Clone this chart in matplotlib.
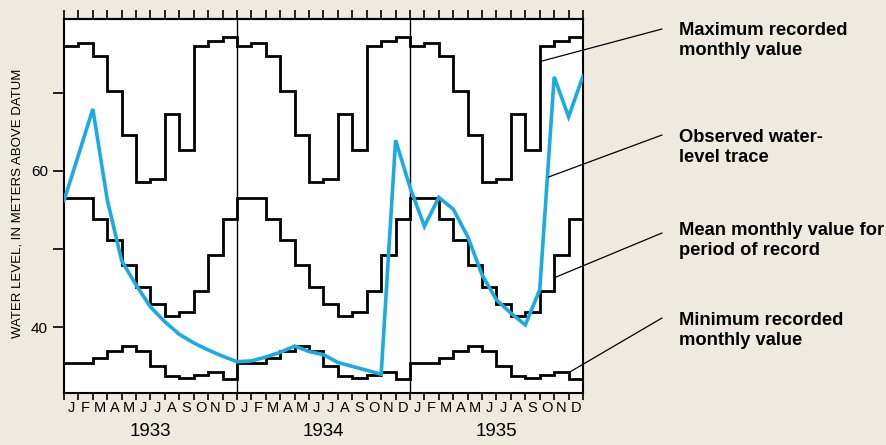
import numpy as np
import matplotlib
matplotlib.use("Agg")
import matplotlib.pyplot as plt

plt.rcParams['font.family'] = ['Liberation Sans', 'DejaVu Sans']

months = ['J', 'F', 'M', 'A', 'M', 'J', 'J', 'A', 'S', 'O', 'N', 'D']
years = ['1933', '1934', '1935']

# monthly statistics for period of record (same every year)
max_vals = [76.0, 76.3, 74.7, 70.2, 64.6, 58.6, 58.9, 67.2, 62.6, 76.0, 76.6, 77.1]
mean_vals = [56.5, 56.5, 53.9, 51.1, 48.0, 45.2, 43.0, 41.5, 41.9, 44.6, 49.3, 53.8]
min_vals = [35.4, 35.4, 36.1, 37.0, 37.6, 37.0, 35.1, 33.8, 33.5, 33.9, 34.3, 33.4]

# observed water level at month ends (Jan 1 1933 ... Dec 31 1935)
obs_1933 = [56.2, 62.0, 67.9, 56.3, 48.5, 45.4, 42.6, 40.7, 39.1, 38.0, 37.1, 36.3]
obs_1934 = [35.6, 35.7, 36.2, 36.8, 37.6, 36.9, 36.5, 35.5, 35.0, 34.5, 34.0, 63.9]
obs_1935 = [57.9, 52.9, 56.6, 55.1, 51.6, 46.7, 43.5, 41.8, 40.3, 44.8, 72.0, 66.9, 72.1]

bg = '#efeae0'
blue = '#1aabe2'

fig = plt.figure(figsize=(8.87, 4.45), dpi=100, facecolor=bg)
ax = fig.add_axes([64/887, 1-393/445, 519/887, 374/445])
ax.set_facecolor('white')

n = len(years) * 12
edges = np.arange(n + 1)
for vals in (max_vals, mean_vals, min_vals):
    ax.stairs(np.tile(vals, len(years)), edges, baseline=None, color='black', lw=2.0)

obs = obs_1933 + obs_1934 + obs_1935
ax.plot(np.arange(len(obs)), obs, color=blue, lw=2.6, solid_joinstyle='miter', zorder=3)

for k in range(1, len(years)):
    ax.axvline(12 * k, color='black', lw=1.0)

ax.set_xlim(0, n)
ax.set_ylim(31.6, 79.4)

# month labels at month centres, ticks at boundaries
ax.set_xticks(np.arange(n) + 0.5)
ax.set_xticklabels(months * len(years), fontsize=10.5)
ax.set_xticks(edges, minor=True)
ax.tick_params(axis='x', which='major', length=0, pad=6)
ax.tick_params(axis='x', which='minor', length=4.8, width=1.2, direction='out')

sec = ax.secondary_xaxis('top')
sec.set_xticks(edges)
sec.set_xticklabels([])
sec.tick_params(length=6.5, width=1.2, direction='out')
sec.spines['top'].set_linewidth(1.5)

ax.set_yticks([40, 50, 60, 70])
ax.set_yticklabels(['40', '', '60', ''], fontsize=11)
ax.tick_params(axis='y', length=7.7, width=1.2, direction='out', pad=3.8)

for s in ax.spines.values():
    s.set_linewidth(1.5)

for i, y in enumerate(years):
    ax.text(12 * i + 6, -0.103, y, transform=ax.get_xaxis_transform(),
            ha='center', va='center', fontsize=13.5)

fig.text(18/887, 1-203/445, 'WATER LEVEL, IN METERS ABOVE DATUM', rotation=90,
         ha='center', va='center', fontsize=9.5)

# callouts
notes = [
    ('Maximum recorded\nmonthly value', (33.1, 74.0), 29, 22),
    ('Observed water-\nlevel trace', (33.6, 59.2), 135, 129),
    ('Mean monthly value for\nperiod of record', (34.1, 46.4), 233, 222),
    ('Minimum recorded\nmonthly value', (35.1, 34.3), 318, 312),
]
for label, xy, ly, ty in notes:
    ax.annotate('', xy=xy, xycoords='data', xytext=(662/887, 1-ly/445),
                textcoords='figure fraction', annotation_clip=False,
                arrowprops=dict(arrowstyle='-', lw=0.9, color='black',
                                shrinkA=0, shrinkB=0))
    fig.text(679/887, 1-ty/445, label, ha='left', va='top', fontsize=13.2,
             fontweight='bold', linespacing=1.2)

fig.savefig('out.png', dpi=100, facecolor=bg)
